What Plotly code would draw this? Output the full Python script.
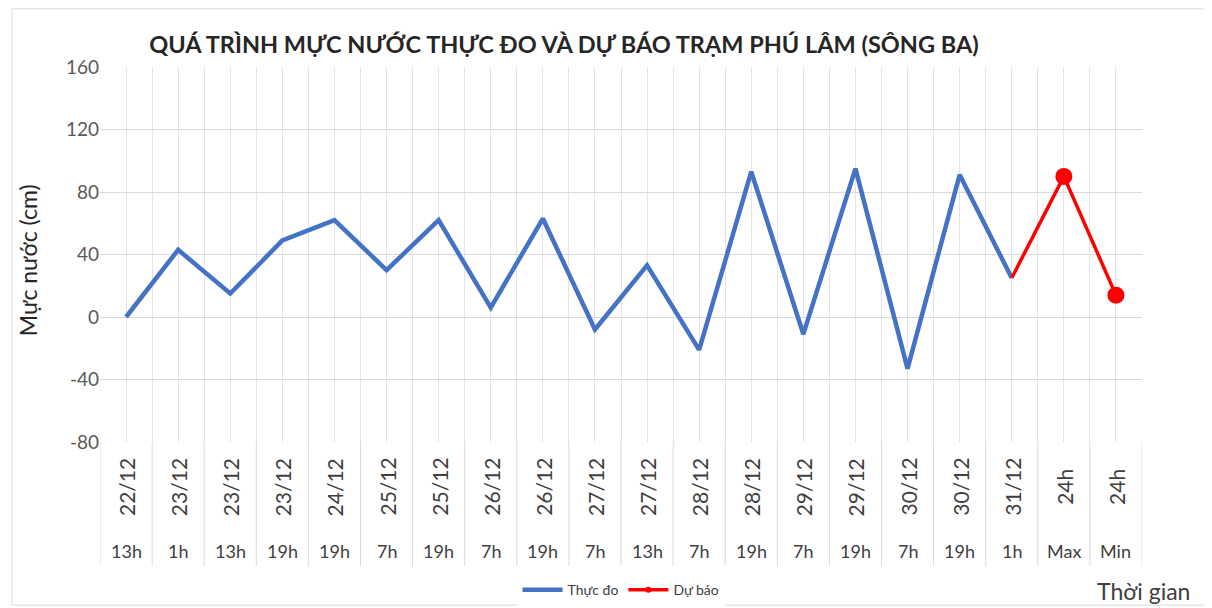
import plotly.graph_objects as go

# data
dates = ['22/12', '23/12', '23/12', '23/12', '24/12', '25/12', '25/12', '26/12', '26/12', '27/12',
         '27/12', '28/12', '28/12', '29/12', '29/12', '30/12', '30/12', '31/12', '24h', '24h']
hours = ['13h', '1h', '13h', '19h', '19h', '7h', '19h', '7h', '19h', '7h',
         '13h', '7h', '19h', '7h', '19h', '7h', '19h', '1h', 'Max', 'Min']
thuc_do = [0, 43, 15, 49, 62, 30, 62, 6, 63, -8, 33, -21, 93, -11, 95, -33, 91, 25]
du_bao = [25, 90, 14]   # 31/12 1h, Max, Min
y_ticks = [-80, -40, 0, 40, 80, 120, 160]
y_ticktext = ['-80', '-40', '0', '40', '80', '120', '160']

FONT = 'Lato'
x_idx = list(range(len(dates)))
x_db = x_idx[len(thuc_do) - 1:]

fig = go.Figure()
fig.add_trace(go.Scatter(x=x_idx[:len(thuc_do)], y=thuc_do, mode='lines', name='Thực đo',
                         line=dict(color='#4472C4', width=4.5)))
fig.add_trace(go.Scatter(x=x_db, y=du_bao, mode='lines', showlegend=False,
                         line=dict(color='#FF0000', width=3.5)))
fig.add_trace(go.Scatter(x=x_db[1:], y=du_bao[1:], mode='markers', showlegend=False,
                         marker=dict(color='#FF0000', size=17)))
# legend entry only
fig.add_trace(go.Scatter(x=[None], y=[None], mode='lines+markers', name='Dự báo',
                         line=dict(color='#FF0000', width=3.5), marker=dict(color='#FF0000', size=6)))

# category labels under the plot (two rows, dates rotated)
annots = []
for i, (d, h) in enumerate(zip(dates, hours)):
    annots.append(dict(x=i, y=-0.12, xref='x', yref='paper', text=d, showarrow=False,
                       textangle=-90, yanchor='middle', xanchor='center',
                       font=dict(family=FONT, size=21, color='#404040')))
    annots.append(dict(x=i, y=-0.29, xref='x', yref='paper', text=h, showarrow=False,
                       yanchor='middle', xanchor='center',
                       font=dict(family=FONT, size=18, color='#404040')))
annots.append(dict(x=-0.069, y=0.485, xref='paper', yref='paper', text='Mực nước (cm)',
                   showarrow=False, textangle=-90, xanchor='center', yanchor='middle',
                   font=dict(family=FONT, size=23, color='#262626')))
annots.append(dict(x=1.001, y=-0.397, xref='paper', yref='paper', text='Thời gian',
                   showarrow=False, xanchor='center', yanchor='middle',
                   font=dict(family=FONT, size=23, color='#404040')))

shapes = []
for i in range(len(dates) + 1):
    shapes.append(dict(type='line', xref='x', yref='paper', x0=i - 0.5, x1=i - 0.5, y0=0, y1=-0.33,
                       line=dict(color='#d9d9d9', width=1)))
shapes.append(dict(type='rect', xref='paper', yref='paper', x0=-0.0845, x1=1.0605, y0=-0.435, y1=1.155,
                   line=dict(color='#d9d9d9', width=1)))

fig.update_layout(
    width=1212, height=608,
    margin=dict(l=92, r=78, t=59, b=174, autoexpand=False),
    plot_bgcolor='white', paper_bgcolor='white',
    title=dict(text='<b>QUÁ TRÌNH MỰC NƯỚC THỰC ĐO VÀ DỰ BÁO TRẠM PHÚ LÂM (SÔNG BA)</b>',
               x=0.4587, xanchor='center', y=0.939, yanchor='middle',
               font=dict(family=FONT, size=23.5, color='#262626')),
    showlegend=True,
    legend=dict(orientation='h', x=0.5, xanchor='center', y=-0.395, yanchor='middle',
                font=dict(family=FONT, size=14, color='#404040'), itemwidth=40),
    annotations=annots, shapes=shapes,
)
fig.update_xaxes(range=[-0.5, len(dates) - 0.5], tick0=-0.5, dtick=0.5, showticklabels=False,
                 showgrid=True, gridcolor='#e4e4e4', zeroline=False, ticks='')
fig.update_yaxes(range=[-80, 160], tickvals=y_ticks, ticktext=y_ticktext, showgrid=True,
                 gridcolor='#d9d9d9', zeroline=False,
                 tickfont=dict(family=FONT, size=19, color='#595959'), ticks='')

fig.write_html("out.html")
